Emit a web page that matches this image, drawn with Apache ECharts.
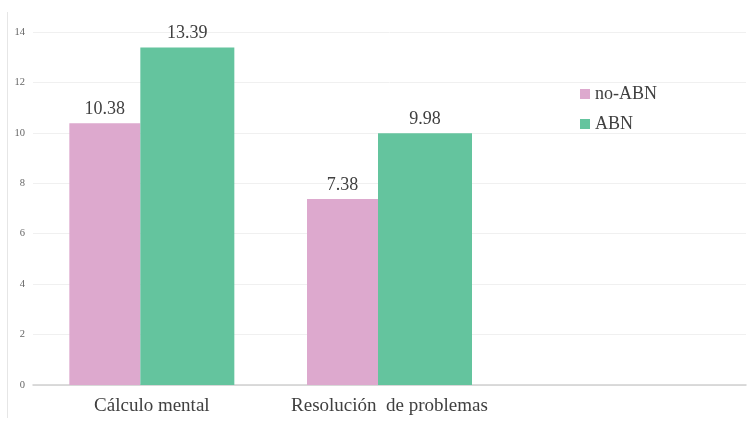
<!DOCTYPE html>
<html><head><meta charset="utf-8">
<script src="https://cdn.jsdelivr.net/npm/echarts@6/dist/echarts.min.js"></script>
<style>html,body{margin:0;padding:0;background:#fff}#c{width:748px;height:424px}</style>
</head><body><div id="c"></div>
<script>
const categories = ['Cálculo mental', 'Resolución  de problemas', ''];
const noABN = [10.38, 7.38, null];
const ABN = [13.39, 9.98, null];
const seriesNames = ['no-ABN', 'ABN'];
const colors = ['#DDA9CE', '#64C49E'];
const serif = 'Liberation Serif';

const chart = echarts.init(document.getElementById('c'));
const lbl = {show: true, position: 'top', fontFamily: serif, fontSize: 18, color: '#404040', distance: 5};
chart.setOption({
  animation: false,
  graphic: [{type: 'line', shape: {x1: 7.5, y1: 12, x2: 7.5, y2: 418}, style: {stroke: '#e6e6e6', lineWidth: 1}}],
  grid: {left: 33, right: 2, top: 32, bottom: 39},
  legend: {
    orient: 'vertical', left: 575, top: 80, itemWidth: 10, itemHeight: 10, itemGap: 12,
    icon: 'rect',
    textStyle: {fontFamily: serif, fontSize: 18, color: '#404040'},
    data: seriesNames
  },
  xAxis: {
    type: 'category', data: categories,
    axisLine: {lineStyle: {color: '#d0d0d0', width: 1.5}},
    axisTick: {show: false},
    axisLabel: {fontFamily: serif, fontSize: 19, color: '#404040', margin: 12, interval: 0}
  },
  yAxis: {
    type: 'value', min: 0, max: 14, interval: 2,
    axisLine: {show: false}, axisTick: {show: false},
    splitLine: {lineStyle: {color: '#f0f0f0'}},
    axisLabel: {fontFamily: serif, fontSize: 10.5, color: '#666', margin: 8}
  },
  series: [
    {name: seriesNames[0], type: 'bar', data: noABN, barWidth: 71, barGap: '0%', itemStyle: {color: colors[0]}, label: lbl},
    {name: seriesNames[1], type: 'bar', data: ABN, barWidth: 94, barGap: '0%', itemStyle: {color: colors[1]}, label: lbl}
  ]
});
</script></body></html>
